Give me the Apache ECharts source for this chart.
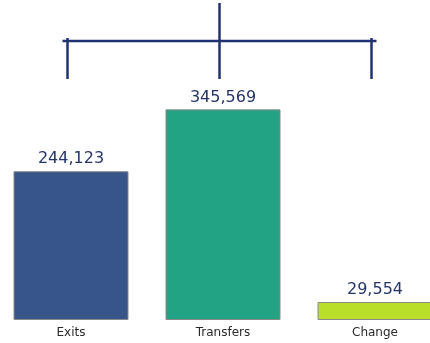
<!DOCTYPE html>
<html>
<head>
<meta charset="utf-8">
<script src="https://cdn.jsdelivr.net/npm/echarts@6/dist/echarts.min.js"></script>
<style>
  html, body { margin: 0; padding: 0; background: #ffffff; }
  #chart { width: 430px; height: 343px; }
</style>
</head>
<body>
<div id="chart"></div>
<script>
// Flow totals
const categories = ['Exits', 'Transfers', 'Change'];
const values = [244123, 345569, 29554];
const barColors = ['#38558A', '#22A384', '#BADF2B'];

const navy = '#1F3372';

const chart = echarts.init(document.getElementById('chart'));

// Bracket spanning the three categories, drawn above the bars
function renderBracket(params, api) {
  const cs = params.coordSys;
  const off = -3.5;
  const x0 = api.coord([0, 0])[0] + off;
  const x1 = api.coord([1, 0])[0] + off;
  const x2 = api.coord([2, 0])[0] + off;
  const yBar = cs.y + 41;
  const yTop = cs.y + 3;
  const yEnd = cs.y + 79;
  const style = { stroke: navy, lineWidth: 2.5, fill: null };
  return {
    type: 'group',
    children: [
      { type: 'line', shape: { x1: x0 - 5, y1: yBar, x2: x2 + 5, y2: yBar }, style },
      { type: 'line', shape: { x1: x0, y1: yBar - 3, x2: x0, y2: yEnd }, style },
      { type: 'line', shape: { x1: x2, y1: yBar - 3, x2: x2, y2: yEnd }, style },
      { type: 'line', shape: { x1: x1, y1: yTop, x2: x1, y2: yEnd }, style }
    ]
  };
}

chart.setOption({
  animation: false,
  backgroundColor: '#ffffff',
  grid: { left: -5, width: 456, top: 0, height: 320, outerBoundsMode: 'none' },
  xAxis: {
    type: 'category',
    data: categories,
    axisLine: { show: false },
    axisTick: { show: false },
    axisLabel: {
      color: '#2a2a2a',
      fontFamily: 'DejaVu Sans',
      fontSize: 12,
      margin: 7
    }
  },
  yAxis: {
    type: 'value',
    min: 0,
    max: 525000,
    show: false,
    splitLine: { show: false }
  },
  series: [
    {
      type: 'bar',
      barWidth: 115,
      data: values.map((v, i) => ({
        value: v,
        itemStyle: { color: barColors[i] }
      })),
      itemStyle: { borderColor: '#8a8a8a', borderWidth: 1 },
      label: {
        show: true,
        position: 'top',
        distance: 4,
        color: '#25356A',
        fontFamily: 'DejaVu Sans',
        fontSize: 16,
        formatter: p => p.value.toLocaleString('en-US')
      }
    },
    {
      type: 'custom',
      renderItem: renderBracket,
      data: [[0, 0]],
      silent: true,
      z: 5
    }
  ]
});
</script>
</body>
</html>
